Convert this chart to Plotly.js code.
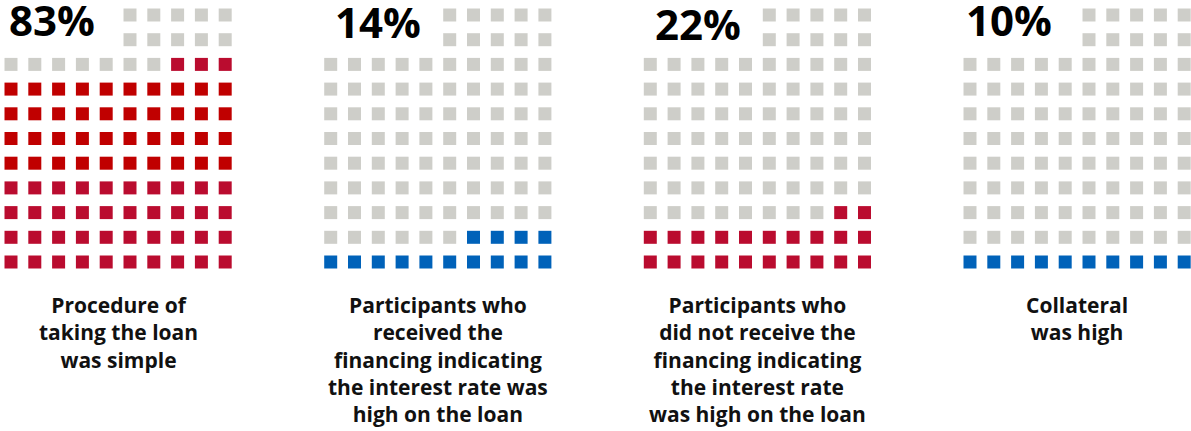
<!DOCTYPE html>
<html>
<head>
<meta charset="utf-8">
<script src="https://cdn.plot.ly/plotly-3.0.1.min.js"></script>
<style>
  html, body { margin: 0; padding: 0; background: #ffffff; }
  #chart { width: 1191px; height: 431px; }
</style>
</head>
<body>
<div id="chart"></div>
<script>
// ---- data ----
const percents = [83, 14, 22, 10];
const percentLabels = ["83%", "14%", "22%", "10%"];
const captions = [
  ["Procedure of", "taking the loan", "was simple"],
  ["Participants who", "received the", "financing indicating", "the interest rate was", "high on the loan"],
  ["Participants who", "did not receive the", "financing indicating", "the interest rate", "was high on the loan"],
  ["Collateral", "was high"]
];
const fillColors = ["#BA0C2F", "#0062B9", "#BA0C2F", "#0062B9"];
const emptyColor = "#CECEC9";
const accentColor = "#C00000";   // brighter red band in the first waffle
const accentRows = [[3, 4, 5, 6], [], [], []];

// ---- layout constants ----
const W = 1191, H = 431;
const gridLeft = [11, 330.7, 650.3, 970];
const colPitch = 23.8, rowTop = 15, rowPitch = 24.7;
const nCols = 10, nRows = 11;
const pctX = [7, 333, 653, 964];
const pctY = [19.5, 21.5, 23.5, 19.5];
const capFont = 21, capBaseline0 = 311.7;
const fontFamily = "'Open Sans', Lato, sans-serif";

// cell order: bottom row first, right to left within each row
function cells() {
  const list = [];
  for (let r = nRows - 1; r >= 0; r--) {
    for (let c = nCols - 1; c >= 0; c--) {
      if (r < 2 && c < 5) continue; // top-left area holds the percentage label
      list.push({r, c});
    }
  }
  return list;
}

const traces = [];
const annotations = [];
percents.forEach((p, g) => {
  const xs = [], ys = [], cols = [];
  cells().forEach((cell, k) => {
    xs.push(gridLeft[g] + cell.c * colPitch);
    ys.push(rowTop + cell.r * rowPitch);
    let col = emptyColor;
    if (k < p) col = accentRows[g].includes(cell.r) ? accentColor : fillColors[g];
    cols.push(col);
  });
  traces.push({
    type: "scatter", mode: "markers", x: xs, y: ys,
    marker: { symbol: "square", size: 13, color: cols, line: { width: 0 } },
    hoverinfo: "skip", showlegend: false
  });
  annotations.push({
    x: pctX[g], y: pctY[g], xref: "x", yref: "y", xanchor: "left", yanchor: "middle",
    text: percentLabels[g], showarrow: false,
    font: { family: fontFamily, size: 42, color: "#000000", weight: 700 }
  });
  const cx = gridLeft[g] + (nCols - 1) * colPitch / 2;
  const n = captions[g].length;
  annotations.push({
    x: cx, y: capBaseline0 - 6.5 + (n - 1) * capFont * 1.3 / 2, xref: "x", yref: "y",
    xanchor: "center", yanchor: "middle", align: "center",
    text: captions[g].map(s => "<b>" + s + "</b>").join("<br>"), showarrow: false,
    font: { family: fontFamily, size: capFont, color: "#111111" }
  });
});

const layout = {
  width: W, height: H,
  margin: { l: 0, r: 0, t: 0, b: 0, pad: 0 },
  paper_bgcolor: "#ffffff", plot_bgcolor: "#ffffff",
  xaxis: { range: [0, W], visible: false, fixedrange: true },
  yaxis: { range: [H, 0], visible: false, fixedrange: true },
  annotations: annotations,
  showlegend: false
};

Plotly.newPlot("chart", traces, layout, { displayModeBar: false, staticPlot: true });
</script>
</body>
</html>
